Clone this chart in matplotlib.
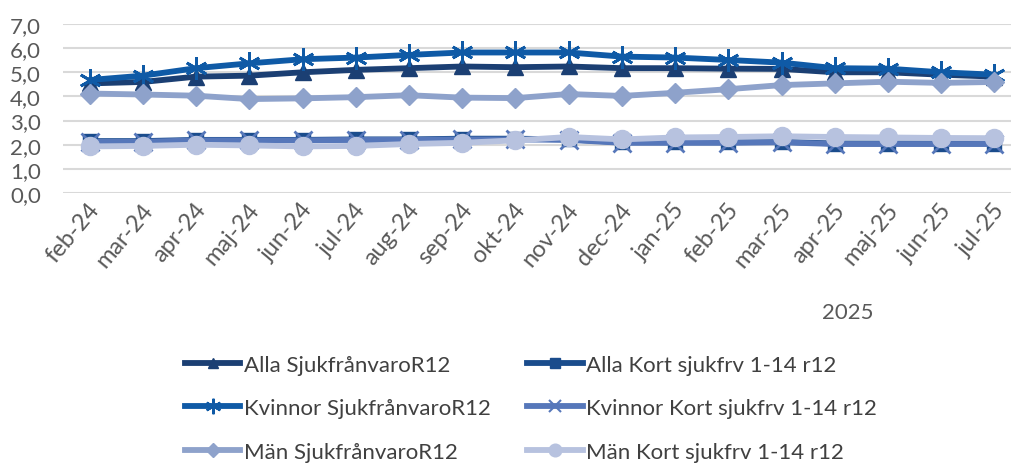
import matplotlib.pyplot as plt
import matplotlib.transforms as mtransforms
from matplotlib.lines import Line2D

plt.rcParams["font.family"] = ["Lato", "DejaVu Sans"]

months = ["feb-24", "mar-24", "apr-24", "maj-24", "jun-24", "jul-24", "aug-24",
          "sep-24", "okt-24", "nov-24", "dec-24", "jan-25", "feb-25", "mar-25",
          "apr-25", "maj-25", "jun-25", "jul-25"]

alla_sjuk = [4.54, 4.60, 4.82, 4.86, 5.00, 5.10, 5.17, 5.24, 5.21, 5.24, 5.17, 5.17,
             5.15, 5.14, 5.00, 5.00, 4.90, 4.82]
alla_kort = [2.15, 2.15, 2.20, 2.20, 2.20, 2.22, 2.22, 2.25, 2.25, 2.22, 2.10, 2.10,
             2.10, 2.12, 2.05, 2.05, 2.05, 2.05]
kvinnor_sjuk = [4.68, 4.86, 5.17, 5.37, 5.54, 5.61, 5.72, 5.82, 5.82, 5.82, 5.65, 5.61,
                5.51, 5.40, 5.17, 5.15, 5.00, 4.90]
kvinnor_kort = [2.12, 2.12, 2.18, 2.18, 2.18, 2.20, 2.20, 2.22, 2.22, 2.20, 2.08, 2.08,
                2.08, 2.10, 2.03, 2.03, 2.03, 2.03]
man_sjuk = [4.12, 4.08, 4.03, 3.89, 3.92, 3.97, 4.05, 3.95, 3.93, 4.10, 4.02, 4.15,
            4.30, 4.47, 4.54, 4.61, 4.56, 4.60]
man_kort = [1.93, 1.95, 2.00, 1.97, 1.93, 1.95, 2.03, 2.08, 2.18, 2.32, 2.22, 2.30,
            2.32, 2.35, 2.32, 2.30, 2.28, 2.27]

# series in Excel drawing order: label, values, colour, marker, marker size
series = [
    ("Alla SjukfrånvaroR12", alla_sjuk, "#1B3F73", "^", 11),
    ("Alla Kort sjukfrv 1-14 r12", alla_kort, "#1A4C8C", "s", 10),
    ("Kvinnor SjukfrånvaroR12", kvinnor_sjuk, "#0F5AA6", (6, 2, 0), 16),
    ("Kvinnor Kort sjukfrv 1-14 r12", kvinnor_kort, "#5677BA", "x", 13),
    ("Män SjukfrånvaroR12", man_sjuk, "#8EA2CB", "D", 10),
    ("Män Kort sjukfrv 1-14 r12", man_kort, "#B7C2DF", "o", 13),
]

fig = plt.figure(figsize=(10.11, 4.64), dpi=100)
fig.patch.set_facecolor("white")
ax = fig.add_axes([63 / 1011, 1 - 194 / 464, 958 / 1011, 169 / 464])

x = list(range(len(months)))
handles = {}
for label, vals, color, marker, ms in series:
    thin = marker in ("x", (6, 2, 0))
    ax.plot(x, vals, color=color, lw=4.2, marker=marker, markersize=ms,
            markeredgewidth=2 if thin else 1,
            markeredgecolor=color, markerfacecolor=color,
            solid_capstyle="round", zorder=3)
    handles[label] = Line2D([], [], color=color, lw=4.2, marker=marker,
                            markersize=ms * 0.7, markeredgecolor=color,
                            markerfacecolor=color,
                            markeredgewidth=1.5 if thin else 1)

ax.set_xlim(-0.5, len(months) - 0.5)
ax.set_ylim(0, 7)
ax.set_yticks([0, 1, 2, 3, 4, 5, 6, 7])
ax.set_yticklabels([f"{v},0" for v in range(8)])
ax.set_xticks(x)
ax.set_xticklabels(months, rotation=50, ha="right", va="center",
                   rotation_mode="anchor")
ax.tick_params(axis="y", length=0, labelsize=16, colors="#595959", pad=16)
ax.tick_params(axis="x", length=0, labelsize=17, colors="#595959", pad=9)
shift = mtransforms.ScaledTranslation(6 / 100, 0, fig.dpi_scale_trans)
for lab in ax.get_xticklabels():
    lab.set_transform(lab.get_transform() + shift)
ax.yaxis.grid(True, color="#D9D9D9", lw=1.5)
ax.set_axisbelow(True)
for s in ax.spines.values():
    s.set_visible(False)

fig.text(848 / 1011, 1 - 313 / 464, "2025", ha="center", va="center",
         fontsize=16, color="#595959")

order = ["Alla SjukfrånvaroR12", "Kvinnor SjukfrånvaroR12", "Män SjukfrånvaroR12",
         "Alla Kort sjukfrv 1-14 r12", "Kvinnor Kort sjukfrv 1-14 r12",
         "Män Kort sjukfrv 1-14 r12"]
leg = fig.legend([handles[k] for k in order], order, ncol=2, loc="upper left",
                 bbox_to_anchor=(176 / 1011, 1 - 347 / 464), frameon=False,
                 fontsize=16, handlelength=2.5, handletextpad=0.15,
                 columnspacing=1.65, labelspacing=1.05, borderaxespad=0)
for t in leg.get_texts():
    t.set_color("#404040")

fig.savefig("out.png", dpi=100, facecolor="white")
